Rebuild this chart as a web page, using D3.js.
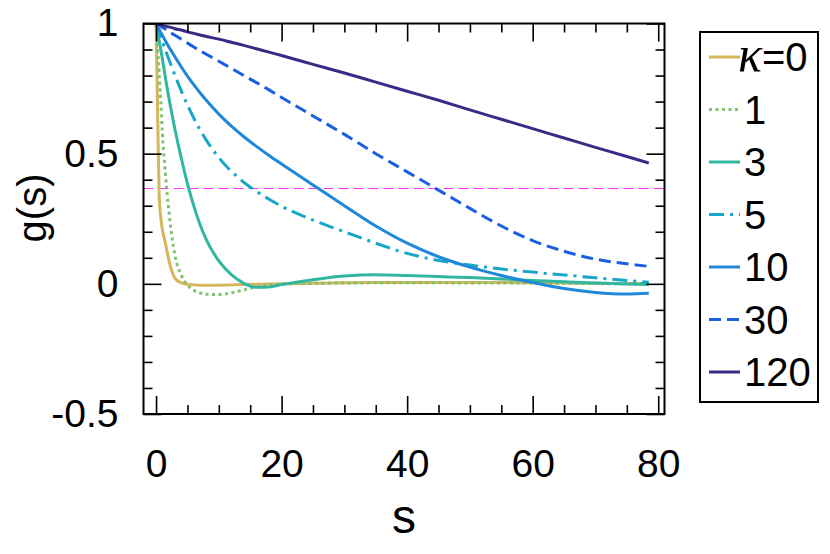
<!DOCTYPE html>
<html>
<head>
<meta charset="utf-8">
<script src="https://cdn.jsdelivr.net/npm/d3@7"></script>
<style>
  html, body { margin: 0; padding: 0; background: #fff; }
  svg { display: block; font-family: "Liberation Sans", Arial, sans-serif; }
</style>
</head>
<body>
<div class="root"></div>
<script>
// lag values s (shared grid) and g(s) for each kappa
var sVals = [0, 0.25, 0.5, 0.75, 1, 1.5, 2, 2.5, 3, 4, 5, 6, 7, 8, 10, 12, 14, 16, 18, 20,
             25, 30, 35, 40, 45, 50, 55, 60, 65, 70, 75, 78.5];

var gK0   = [1, 0.66, 0.34, 0.255, 0.21, 0.155, 0.095, 0.05, 0.022, 0.004, -0.002, -0.004, -0.005, -0.005, -0.005, -0.004, -0.003, -0.002, -0.001, 0,
             0.002, 0.004, 0.005, 0.005, 0.005, 0.005, 0.005, 0.004, 0.003, 0.002, 0.001, 0];
var gK1   = [1, 0.9, 0.81, 0.7, 0.585, 0.42, 0.29, 0.185, 0.11, 0.035, -0.005, -0.025, -0.035, -0.04, -0.041, -0.035, -0.023, -0.012, -0.005, -0.001,
             0.002, 0.003, 0.004, 0.004, 0.004, 0.003, 0.003, 0.003, 0.002, 0.001, 0, 0];
var gK3   = [1, 0.97, 0.935, 0.9, 0.865, 0.79, 0.72, 0.655, 0.595, 0.485, 0.385, 0.3, 0.228, 0.17, 0.088, 0.035, 0.002, -0.013, -0.012, -0.003,
             0.016, 0.03, 0.035, 0.032, 0.028, 0.024, 0.019, 0.013, 0.008, 0.003, -0.001, -0.003];
var gK5   = [1, 0.983, 0.966, 0.949, 0.932, 0.898, 0.865, 0.833, 0.802, 0.742, 0.687, 0.637, 0.592, 0.552, 0.485, 0.432, 0.39, 0.355, 0.325, 0.298,
             0.245, 0.2, 0.156, 0.117, 0.09, 0.072, 0.057, 0.045, 0.034, 0.023, 0.013, 0.006];
var gK10  = [1, 0.988, 0.977, 0.966, 0.955, 0.933, 0.912, 0.892, 0.872, 0.834, 0.798, 0.765, 0.734, 0.705, 0.652, 0.606, 0.565, 0.528, 0.493, 0.46,
             0.38, 0.3, 0.222, 0.156, 0.104, 0.064, 0.032, 0.005, -0.018, -0.033, -0.039, -0.036];
var gK30  = [1, 0.997, 0.993, 0.99, 0.985, 0.978, 0.97, 0.962, 0.955, 0.94, 0.925, 0.91, 0.895, 0.882, 0.855, 0.828, 0.8, 0.773, 0.745, 0.716,
             0.645, 0.574, 0.5, 0.43, 0.36, 0.29, 0.222, 0.166, 0.125, 0.095, 0.077, 0.067];
var gK120 = [1, 0.999, 0.997, 0.995, 0.993, 0.99, 0.987, 0.984, 0.98, 0.975, 0.968, 0.962, 0.956, 0.95, 0.94, 0.928, 0.916, 0.903, 0.89, 0.877,
             0.843, 0.81, 0.775, 0.74, 0.705, 0.668, 0.632, 0.596, 0.56, 0.524, 0.489, 0.464];

var kappaLabels = ['0', '1', '3', '5', '10', '30', '120'];
var seriesVals = [gK0, gK1, gK3, gK5, gK10, gK30, gK120];
var colors = ['#d5b65a', '#7fc270', '#31b79f', '#17a6c8', '#1f88d8', '#1a5fe2', '#3a2a88'];
var dashes = [null, '3,3.5', null, '15,6,3,6', null, '12,6', null];

var xMajor = [0, 20, 40, 60, 80];
var yMajor = [-0.5, 0, 0.5, 1];
var yTickLabels = ['-0.5', '0', '0.5', '1'];
var refLevel = 0.368; // 1/e

function drawChart() {
  var W = 830, H = 554;
  var pL = 143.5, pR = 664.5, pT = 23.5, pB = 414;

  var svg = d3.select('.root').append('svg')
    .attr('width', W)
    .attr('height', H);

  var x = d3.scaleLinear().domain([-2, 81]).range([pL, pR]);
  var y = d3.scaleLinear().domain([-0.5, 1]).range([pB, pT]);

  var xMinor = d3.range(0, 81, 5).filter(function(v) { return xMajor.indexOf(v) < 0; });
  var yMinor = d3.range(-5, 11).map(function(v) { return v / 10; })
    .filter(function(v) { return yMajor.indexOf(v) < 0; });

  svg.append('clipPath').attr('id', 'plotclip')
    .append('rect')
      .attr('x', pL).attr('y', pT)
      .attr('width', pR - pL).attr('height', pB - pT);

  // 1/e reference line (snapped to the pixel grid so it stays crisp)
  var yRef = Math.round(y(refLevel)) + 0.5;
  svg.append('line')
    .attr('x1', pL).attr('x2', pR)
    .attr('y1', yRef).attr('y2', yRef)
    .attr('stroke', '#ff33ff')
    .attr('stroke-width', 1)
    .attr('stroke-dasharray', '10,5');

  var line = d3.line()
    .x(function(d) { return x(d[0]); })
    .y(function(d) { return y(d[1]); })
    .curve(d3.curveMonotoneX);

  var curves = svg.append('g').attr('clip-path', 'url(#plotclip)');
  seriesVals.forEach(function(vals, i) {
    var pts = sVals.map(function(s, j) { return [s, vals[j]]; });
    curves.append('path')
      .datum(pts)
      .attr('d', line)
      .attr('fill', 'none')
      .attr('stroke', colors[i])
      .attr('stroke-width', 3)
      .attr('stroke-linejoin', 'round')
      .attr('stroke-dasharray', dashes[i]);
  });

  // axes: ticks pointing inward on all four sides
  function styleAxis(g) {
    g.select('.domain').remove();
    g.selectAll('line').attr('stroke', '#000').attr('stroke-width', 1.6);
    g.selectAll('text').attr('font-size', 39).attr('fill', '#000')
      .attr('font-family', '"Liberation Sans", Arial, sans-serif');
  }

  svg.append('g')
    .attr('transform', 'translate(0,' + pB + ')')
    .call(d3.axisBottom(x).tickValues(xMajor).tickSizeInner(-18).tickSizeOuter(0).tickPadding(35))
    .call(styleAxis);
  svg.append('g')
    .attr('transform', 'translate(0,' + pB + ')')
    .call(d3.axisBottom(x).tickValues(xMinor).tickSizeInner(-9).tickSizeOuter(0).tickFormat(''))
    .call(styleAxis);
  svg.append('g')
    .attr('transform', 'translate(0,' + pT + ')')
    .call(d3.axisTop(x).tickValues(xMajor).tickSizeInner(-18).tickSizeOuter(0).tickFormat(''))
    .call(styleAxis);
  svg.append('g')
    .attr('transform', 'translate(0,' + pT + ')')
    .call(d3.axisTop(x).tickValues(xMinor).tickSizeInner(-9).tickSizeOuter(0).tickFormat(''))
    .call(styleAxis);

  svg.append('g')
    .attr('transform', 'translate(' + pL + ',0)')
    .call(d3.axisLeft(y).tickValues(yMajor).tickSizeInner(-18).tickSizeOuter(0).tickPadding(25)
          .tickFormat(function(d, i) { return yTickLabels[i]; }))
    .call(styleAxis);
  svg.append('g')
    .attr('transform', 'translate(' + pL + ',0)')
    .call(d3.axisLeft(y).tickValues(yMinor).tickSizeInner(-9).tickSizeOuter(0).tickFormat(''))
    .call(styleAxis);
  svg.append('g')
    .attr('transform', 'translate(' + pR + ',0)')
    .call(d3.axisRight(y).tickValues(yMajor).tickSizeInner(-18).tickSizeOuter(0).tickFormat(''))
    .call(styleAxis);
  svg.append('g')
    .attr('transform', 'translate(' + pR + ',0)')
    .call(d3.axisRight(y).tickValues(yMinor).tickSizeInner(-9).tickSizeOuter(0).tickFormat(''))
    .call(styleAxis);

  // frame
  svg.append('rect')
    .attr('x', pL).attr('y', pT)
    .attr('width', pR - pL).attr('height', pB - pT)
    .attr('fill', 'none')
    .attr('stroke', '#000')
    .attr('stroke-width', 2);

  // axis titles
  svg.append('text')
    .attr('x', (pL + pR) / 2).attr('y', 533)
    .attr('text-anchor', 'middle')
    .attr('font-size', 48)
    .text('s');

  svg.append('text')
    .attr('transform', 'translate(46,208) rotate(-90)')
    .attr('text-anchor', 'middle')
    .attr('font-size', 40)
    .text('g(s)');

  // legend
  var legend = svg.append('g');
  legend.append('rect')
    .attr('x', 700).attr('y', 32)
    .attr('width', 118).attr('height', 370)
    .attr('fill', '#fff')
    .attr('stroke', '#000')
    .attr('stroke-width', 2);

  kappaLabels.forEach(function(lab, i) {
    var cy = 57 + i * 52.5;
    legend.append('line')
      .attr('x1', 709).attr('x2', 740)
      .attr('y1', cy).attr('y2', cy)
      .attr('stroke', colors[i])
      .attr('stroke-width', 3)
      .attr('stroke-dasharray', dashes[i]);
    var t = legend.append('text')
      .attr('x', i === 0 ? 738 : 744)
      .attr('y', cy + 14)
      .attr('font-size', 40);
    if (i === 0) {
      t.append('tspan')
        .attr('font-family', '"Liberation Serif", "DejaVu Serif", serif')
        .attr('font-style', 'italic')
        .attr('font-size', 50)
        .text('\u03ba');
      t.append('tspan').text('=' + lab);
    } else {
      t.text(lab);
    }
  });
}

drawChart();
</script>
</body>
</html>
